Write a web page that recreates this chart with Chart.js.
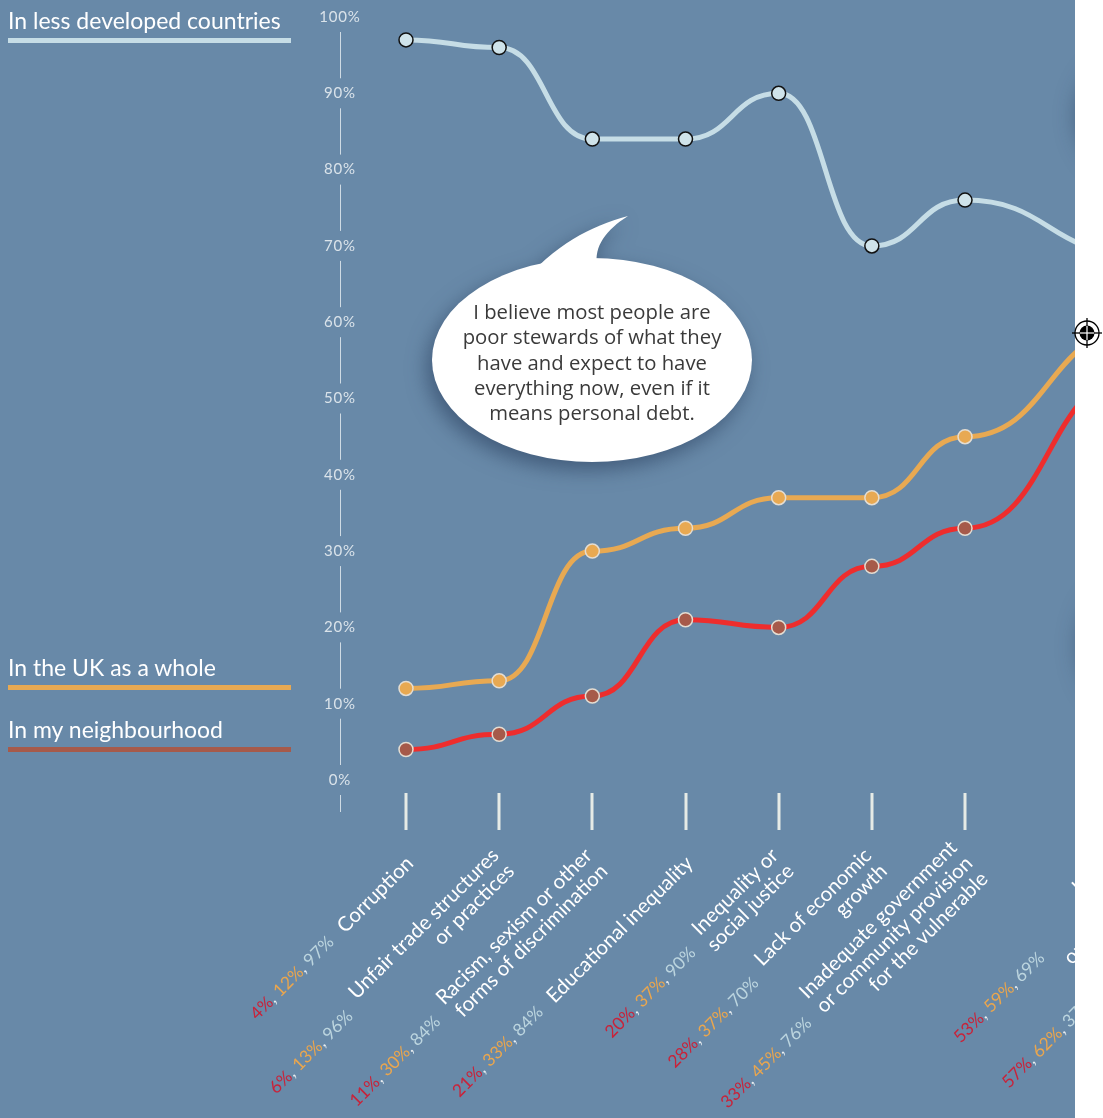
<!DOCTYPE html>
<html><head><meta charset="utf-8">
<script src="https://cdn.jsdelivr.net/npm/chart.js@4/dist/chart.umd.min.js"></script>
<style>
html,body{margin:0;padding:0;background:#fff;width:1103px;height:1118px;overflow:hidden;}
#wrap{position:absolute;left:0;top:0;width:1075px;height:1118px;background:#6889a8;overflow:hidden;}
#holder{position:absolute;left:0;top:0;width:1300px;height:1118px;}
.leg{position:absolute;left:8px;font-family:Lato,"Open Sans",sans-serif;font-size:23px;color:#fff;line-height:28px;white-space:nowrap;}
.bar{position:absolute;left:8px;width:283px;height:5px;}
.shadowblob{position:absolute;left:1090px;background:#6889a8;border-radius:50%;}
#bubble{position:absolute;left:420px;top:205px;width:350px;height:270px;}
#btext{position:absolute;left:402px;top:299px;width:380px;text-align:center;font-family:"Open Sans",Lato,sans-serif;font-size:20.3px;line-height:25.3px;color:#3a3a3a;}
#target{position:absolute;left:1072px;top:318px;width:30px;height:30px;}
</style></head><body>
<div id="wrap">
  <div class="shadowblob" style="top:40px;width:200px;height:140px;box-shadow:-4px 6px 22px 8px rgba(40,60,90,0.6);"></div>
  <div class="shadowblob" style="top:560px;width:200px;height:160px;box-shadow:-4px 6px 22px 6px rgba(40,60,90,0.55);"></div>
  <div id="holder"><canvas id="cv" width="1300" height="1118"></canvas></div>
  <svg id="bubble" viewBox="420 205 350 270" width="350" height="270" style="filter:drop-shadow(-5px 8px 10px rgba(35,55,85,0.55));">
    <ellipse cx="592" cy="360" rx="160" ry="102" fill="#fff"/>
    <path d="M 520 285 C 555 245 590 226 628 216 C 606 230 594 246 597 266 Z" fill="#fff"/>
  </svg>
  <div id="btext">I believe most people are<br>poor stewards of what they<br>have and expect to have<br>everything now, even if it<br>means personal debt.</div>
  <div class="leg" style="top:6px;">In less developed countries</div>
  <div class="bar" style="top:38px;background:#c6dde6;"></div>
  <div class="leg" style="top:653px;">In the UK as a whole</div>
  <div class="bar" style="top:685px;background:#e8a952;"></div>
  <div class="leg" style="top:715px;">In my neighbourhood</div>
  <div class="bar" style="top:747px;background:#a65a4a;"></div>
</div>
<svg id="target" viewBox="-15 -15 30 30">
  <circle cx="0" cy="0" r="12" fill="#fff" stroke="#000" stroke-width="1.3"/>
  <circle cx="0" cy="0" r="7.5" fill="#000"/>
  <line x1="-15" y1="0" x2="15" y2="0" stroke="#000" stroke-width="1.3"/>
  <line x1="0" y1="-15" x2="0" y2="15" stroke="#000" stroke-width="1.3"/>
  <line x1="-7" y1="0" x2="7" y2="0" stroke="#fff" stroke-width="1.2"/>
  <line x1="0" y1="-7" x2="0" y2="7" stroke="#fff" stroke-width="1.2"/>
</svg>
<script>
// ---- data ----
const categories = [
  ["Corruption"],
  ["Unfair trade structures", "or practices"],
  ["Racism, sexism or other", "forms of discrimination"],
  ["Educational inequality"],
  ["Inequality or", "social justice"],
  ["Lack of economic", "growth"],
  ["Inadequate government", "or community provision", "for the vulnerable"],
  ["Lack of", "job", "opportunities"],
  ["Addiction to alcohol,", "drugs or gambling"]
];
const neighbourhood = [4, 6, 11, 21, 20, 28, 33, 53, 57];
const ukWhole       = [12, 13, 30, 33, 37, 37, 45, 59, 62];
const lessDeveloped = [97, 96, 84, 84, 90, 70, 76, 69, 37];
const yTickValues   = [0, 10, 20, 30, 40, 50, 60, 70, 80, 90, 100];
const seriesNames   = ["In my neighbourhood", "In the UK as a whole", "In less developed countries"];

// layout: the reference leaves a wider gap after the seventh cause
const groupBreakAfter = 6, groupGap = 0.8;
const slot = i => (i > groupBreakAfter ? i + groupGap : i);
const toPoints = arr => arr.map((v, i) => ({ x: slot(i), y: v }));

const C = {
  redLine:'#ee2d2d', redPt:'#a65a4a', redTxt:'#c8233a',
  orLine:'#e8a952', orTxt:'#eaa64e',
  blLine:'#c6dde6', blPt:'#cfe3ea', blTxt:'#bcd5df',
  ptBorderLight:'#e4ddd2', axis:'#cfdbe4', tick:'#e6ebe6', comma:'#e8edf0'
};
const FONT = 'Lato, "Open Sans", sans-serif';

// smooth "bump" curves: horizontal tangent at every data point
const bumpPlugin = {
  id:'bumpCurve',
  beforeDatasetDraw(chart, args){
    const meta = args.meta;
    meta.dataset.updateControlPoints(chart.chartArea, meta.iAxis);
    const pts = meta.data;
    for (let i = 0; i < pts.length; i++) {
      const p = pts[i], prev = pts[i - 1], next = pts[i + 1];
      p.cp1x = prev ? p.x - (p.x - prev.x) * 0.5 : p.x;
      p.cp1y = p.y;
      p.cp2x = next ? p.x + (next.x - p.x) * 0.5 : p.x;
      p.cp2y = p.y;
    }
  }
};

const axesPlugin = {
  id:'customAxes',
  beforeDatasetsDraw(chart){
    const ctx = chart.ctx, ys = chart.scales.y, xs = chart.scales.x;
    const ax = chart.chartArea.left - 66;
    ctx.save();
    ctx.font = '15px ' + FONT;
    if ('letterSpacing' in ctx) ctx.letterSpacing = '0.8px';
    ctx.fillStyle = '#dae3ea';
    ctx.textAlign = 'center';
    ctx.textBaseline = 'middle';
    yTickValues.forEach(v => ctx.fillText(v + '%', ax, ys.getPixelForValue(v)));
    ctx.strokeStyle = C.axis; ctx.lineWidth = 1;
    ctx.beginPath();
    for (let i = 0; i < yTickValues.length - 1; i++) {
      const y1 = ys.getPixelForValue(yTickValues[i+1]) + 15;
      const y0 = ys.getPixelForValue(yTickValues[i]) - 15;
      ctx.moveTo(ax + 0.5, y1); ctx.lineTo(ax + 0.5, y0);
    }
    const yb = ys.getPixelForValue(0);
    ctx.moveTo(ax + 0.5, yb + 15); ctx.lineTo(ax + 0.5, yb + 32);
    ctx.stroke();
    ctx.strokeStyle = C.tick; ctx.lineWidth = 3;
    ctx.beginPath();
    categories.forEach((c, i) => {
      const px = Math.round(xs.getPixelForValue(slot(i)));
      ctx.moveTo(px, yb + 13); ctx.lineTo(px, yb + 50);
    });
    ctx.stroke();
    ctx.restore();
  },
  afterDraw(chart){
    const ctx = chart.ctx, xs = chart.scales.x, ys = chart.scales.y;
    const yb = ys.getPixelForValue(0);
    categories.forEach((lines, i) => {
      const px = xs.getPixelForValue(slot(i));
      ctx.save();
      ctx.translate(px + 4, yb + 80);
      ctx.rotate(-Math.PI / 4);
      ctx.font = '20.4px ' + FONT;
      ctx.fillStyle = '#ffffff';
      ctx.textAlign = 'right';
      ctx.textBaseline = 'middle';
      const n = lines.length, lh = 22;
      let maxW = 0;
      lines.forEach((t, k) => {
        ctx.fillText(t, 0, (k - (n - 1) / 2) * lh);
        maxW = Math.max(maxW, ctx.measureText(t).width);
      });
      ctx.font = '17.5px ' + FONT;
      const parts = [
        [neighbourhood[i] + '%', C.redTxt], [',', C.comma], [' ' + ukWhole[i] + '%', C.orTxt],
        [',', C.comma], [' ' + lessDeveloped[i] + '%', C.blTxt]
      ];
      const total = parts.reduce((s, p) => s + ctx.measureText(p[0]).width, 0);
      let x = -maxW - 14 - total;
      ctx.textAlign = 'left';
      parts.forEach(([t, c]) => { ctx.fillStyle = c; ctx.fillText(t, x, 0); x += ctx.measureText(t).width; });
      ctx.restore();
    });
  }
};

const lastSlot = slot(categories.length - 1);
new Chart(document.getElementById('cv'), {
  type:'line',
  data:{
    datasets:[
      { label: seriesNames[0], data: toPoints(neighbourhood), borderColor:C.redLine, backgroundColor:C.redPt,
        pointBackgroundColor:C.redPt, pointBorderColor:C.ptBorderLight },
      { label: seriesNames[1], data: toPoints(ukWhole), borderColor:C.orLine, backgroundColor:C.orLine,
        pointBackgroundColor:C.orLine, pointBorderColor:C.ptBorderLight },
      { label: seriesNames[2], data: toPoints(lessDeveloped), borderColor:C.blLine, backgroundColor:C.blPt,
        pointBackgroundColor:C.blPt, pointBorderColor:'#111' }
    ]
  },
  options:{
    responsive:false, animation:false, events:[],
    devicePixelRatio:1,
    layout:{ padding:{ left:406, right:1300 - (406 + 93.17 * lastSlot), top:17, bottom:338 } },
    elements:{
      line:{ borderWidth:5, cubicInterpolationMode:'monotone', fill:false, capBezierPoints:false },
      point:{ radius:7, borderWidth:1.5 }
    },
    datasets:{ line:{ clip:false } },
    scales:{
      x:{ type:'linear', display:false, min:0, max:lastSlot },
      y:{ type:'linear', display:false, min:0, max:100 }
    },
    plugins:{ legend:{display:false}, tooltip:{enabled:false} }
  },
  plugins:[bumpPlugin, axesPlugin]
});
</script>
</body></html>
